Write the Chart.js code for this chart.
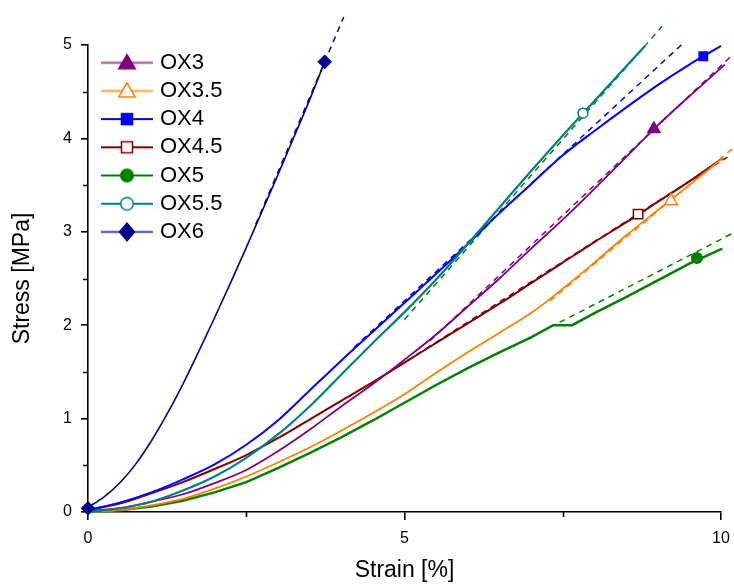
<!DOCTYPE html>
<html><head><meta charset="utf-8">
<script src="https://cdn.jsdelivr.net/npm/chart.js@4/dist/chart.umd.min.js"></script>
<style>html,body{margin:0;padding:0;background:#fff}canvas{display:block}</style>
</head><body>
<canvas id="c" width="734" height="584"></canvas>
<script>
// ---------- data ----------
const seriesNames = ['OX3', 'OX3.5', 'OX4', 'OX4.5', 'OX5', 'OX5.5', 'OX6'];

const strainOX3  = [0, 0.5, 1, 1.5, 2, 2.5, 3, 3.5, 4, 4.5, 5, 5.5, 6, 6.5, 7, 7.5, 8, 8.5, 9, 9.5, 10.06];
const stressOX3  = [0.01, 0.04, 0.11, 0.19, 0.31, 0.45, 0.65, 0.88, 1.13, 1.37, 1.63, 1.9, 2.2, 2.5, 2.82, 3.13, 3.46, 3.8, 4.14, 4.45, 4.79];

const strainOX35 = [0, 0.5, 1, 1.5, 2, 2.5, 3, 3.5, 4, 4.5, 5, 5.5, 6, 6.5, 7, 7.5, 8, 8.5, 9, 9.5, 10.03];
const stressOX35 = [0, 0.02, 0.07, 0.14, 0.25, 0.38, 0.53, 0.69, 0.87, 1.06, 1.26, 1.49, 1.71, 1.92, 2.13, 2.39, 2.67, 2.96, 3.23, 3.5, 3.79];

const strainOX4  = [0, 0.5, 1, 1.5, 2, 2.5, 3, 3.5, 4, 4.5, 5, 5.5, 6, 6.5, 7, 7.5, 8, 8.5, 9, 9.5, 9.72, 10.0];
const stressOX4  = [0.02, 0.1, 0.21, 0.35, 0.51, 0.72, 0.98, 1.3, 1.62, 1.93, 2.24, 2.55, 2.87, 3.2, 3.51, 3.82, 4.08, 4.33, 4.57, 4.79, 4.88, 4.99];

const strainOX45 = [0, 0.5, 1, 1.5, 2, 2.5, 3, 3.5, 4, 4.5, 5, 5.5, 6, 6.5, 7, 7.5, 8, 8.5, 9, 9.5, 10.03];
const stressOX45 = [0.02, 0.09, 0.2, 0.32, 0.46, 0.61, 0.79, 0.99, 1.19, 1.39, 1.6, 1.81, 2.02, 2.23, 2.45, 2.67, 2.89, 3.1, 3.32, 3.54, 3.79];

const strainOX5  = [0, 0.5, 1, 1.5, 2, 2.5, 3, 3.5, 4, 4.5, 5, 5.5, 6, 6.5, 7, 7.35, 7.65, 8, 8.5, 9, 9.5, 10.02];
const stressOX5  = [0, 0.02, 0.06, 0.12, 0.21, 0.32, 0.47, 0.63, 0.8, 0.98, 1.17, 1.36, 1.54, 1.71, 1.87, 2.0, 2.0, 2.13, 2.3, 2.48, 2.66, 2.82];

const strainOX55 = [0, 0.5, 1, 1.5, 2, 2.5, 3, 3.5, 4, 4.5, 5, 5.5, 6, 6.5, 7, 7.5, 8, 8.5, 8.8];
const stressOX55 = [0, 0.04, 0.11, 0.23, 0.38, 0.58, 0.83, 1.13, 1.47, 1.81, 2.14, 2.49, 2.87, 3.26, 3.65, 4.03, 4.4, 4.77, 4.99];

const strainOX6  = [0, 0.25, 0.5, 0.75, 1.0, 1.25, 1.5, 1.75, 2.0, 2.25, 2.5, 2.75, 3.0, 3.25, 3.5, 3.74];
const stressOX6  = [0.05, 0.16, 0.31, 0.51, 0.76, 1.05, 1.37, 1.72, 2.08, 2.45, 2.83, 3.22, 3.61, 4.01, 4.41, 4.82];

// linear fits (dashed)
const fitStrainOX3  = [5.4, 10.19];  const fitStressOX3  = [1.83, 4.90];
const fitStrainOX35 = [7.3, 10.2];   const fitStressOX35 = [2.26, 3.9];
const fitStrainOX4  = [4.2, 9.42];   const fitStressOX4  = [1.76, 5.03];
const fitStrainOX45 = [4.6, 10.1];   const fitStressOX45 = [1.43, 3.80];
const fitStrainOX5  = [7.45, 10.2];  const fitStressOX5  = [2.03, 2.99];
const fitStrainOX55 = [5.0, 9.07];   const fitStressOX55 = [2.06, 5.2];
const fitStrainOX6  = [2.65, 4.04];  const fitStressOX6  = [3.08, 5.3];

// marker positions
const markerStrain = [[8.94], [9.21], [9.72], [8.69], [9.62], [7.82], [0, 3.74]];
const markerStress = [[4.10], [3.33], [4.88], [3.19], [2.72], [4.27], [0.04, 4.82]];

const xTicks = [0, 5, 10];
const yTicks = [0, 1, 2, 3, 4, 5];

// ---------- styles ----------
const colors     = ['#800080', '#FF8000', '#0000FF', '#800000', '#008000', '#008080', '#000090'];
const fitColors  = ['#800080', '#FF8000', '#0000FF', '#800000', '#008000', '#008000', '#000090'];
const lineWidths = [1.8, 1.8, 2, 2, 2.5, 2.2, 1.6];
const shapes     = ['triangle', 'triangle', 'rect', 'rect', 'circle', 'circle', 'rectRot'];
const filled     = [true, false, true, false, true, false, true];
const radii      = [7, 7.5, 5.9, 6.6, 5.3, 5, 6.3];
const drawOrder  = [13, 14, 12, 15, 16, 11, 10];
const smooth     = [true, true, true, true, false, true, true];

const curvesX = [strainOX3, strainOX35, strainOX4, strainOX45, strainOX5, strainOX55, strainOX6];
const curvesY = [stressOX3, stressOX35, stressOX4, stressOX45, stressOX5, stressOX55, stressOX6];
const fitsX = [fitStrainOX3, fitStrainOX35, fitStrainOX4, fitStrainOX45, fitStrainOX5, fitStrainOX55, fitStrainOX6];
const fitsY = [fitStressOX3, fitStressOX35, fitStressOX4, fitStressOX45, fitStressOX5, fitStressOX55, fitStressOX6];

const pts = (xs, ys) => xs.map((x, i) => ({x: x, y: ys[i]}));

const datasets = [];
seriesNames.forEach((name, i) => {
  datasets.push({
    label: name + ' fit', data: pts(fitsX[i], fitsY[i]),
    borderColor: fitColors[i], borderWidth: 1.5, borderDash: [6, 5],
    pointRadius: 0, fill: false, clip: false, order: 20
  });
});
seriesNames.forEach((name, i) => {
  const ds = {
    label: name, data: pts(curvesX[i], curvesY[i]),
    borderColor: colors[i], borderWidth: lineWidths[i],
    pointRadius: 0, fill: false, clip: false, order: drawOrder[i]
  };
  if (smooth[i]) ds.cubicInterpolationMode = 'monotone'; else ds.tension = 0;
  datasets.push(ds);
});
seriesNames.forEach((name, i) => {
  datasets.push({
    label: name + ' marker', data: pts(markerStrain[i], markerStress[i]),
    showLine: false, pointStyle: shapes[i], pointRadius: radii[i],
    pointBackgroundColor: filled[i] ? colors[i] : '#ffffff',
    pointBorderColor: colors[i], pointBorderWidth: 1.5,
    clip: false, order: i
  });
});

// ---------- legend icons (line + marker) ----------
function makeIcon(i) {
  const c = document.createElement('canvas');
  c.width = 56; c.height = 24;
  const g = c.getContext('2d');
  const col = colors[i];
  const light = (i === 0 || i === 1 || i === 6);
  g.globalAlpha = light ? 0.6 : 1;
  g.strokeStyle = col; g.lineWidth = light ? 2.6 : 2;
  g.beginPath(); g.moveTo(2, 12); g.lineTo(54, 12); g.stroke();
  g.globalAlpha = 1;
  const cx = 28, cy = 12;
  g.beginPath();
  if (shapes[i] === 'triangle') {
    g.moveTo(cx, cy - 8); g.lineTo(cx + 8.3, cy + 6); g.lineTo(cx - 8.3, cy + 6); g.closePath();
  } else if (shapes[i] === 'rect') {
    g.rect(cx - 5.5, cy - 5.5, 11, 11);
  } else if (shapes[i] === 'circle') {
    g.arc(cx, cy, 6.3, 0, Math.PI * 2);
  } else {
    g.moveTo(cx, cy - 8.8); g.lineTo(cx + 7.5, cy); g.lineTo(cx, cy + 8.8); g.lineTo(cx - 7.5, cy); g.closePath();
  }
  g.fillStyle = filled[i] ? col : '#ffffff';
  g.fill();
  g.strokeStyle = col; g.lineWidth = 1.5; g.stroke();
  return c;
}
const legendIcons = seriesNames.map((n, i) => makeIcon(i));

// ---------- plugins ----------
const legendPlace = {
  id: 'legendPlace',
  afterLayout(chart) {
    if (chart.legend) { chart.legend.left = 98.8; chart.legend.top = 45.5; }
  }
};
const minorTicks = {
  id: 'minorTicks',
  afterDraw(chart) {
    const {ctx, scales: {x, y}} = chart;
    ctx.save();
    ctx.strokeStyle = '#000'; ctx.lineWidth = 1.6;
    ctx.beginPath();
    [2.5, 7.5].forEach(v => { const p = Math.round(x.getPixelForValue(v)) + 0.5; ctx.moveTo(p, y.bottom); ctx.lineTo(p, y.bottom + 5); });
    [0.5, 1.5, 2.5, 3.5, 4.5].forEach(v => { const p = Math.round(y.getPixelForValue(v)) + 0.5; ctx.moveTo(x.left - 5, p); ctx.lineTo(x.left, p); });
    ctx.stroke();
    ctx.restore();
  }
};

Chart.defaults.font.family = '"Liberation Sans", Arial, sans-serif';
Chart.defaults.color = '#000';

new Chart(document.getElementById('c'), {
  type: 'line',
  data: {datasets: datasets},
  plugins: [legendPlace, minorTicks],
  options: {
    responsive: false, animation: false, devicePixelRatio: 1,
    layout: {padding: {top: 45, right: 13, left: 0, bottom: 0}},
    plugins: {
      tooltip: {enabled: false},
      legend: {
        position: 'chartArea', align: 'start',
        labels: {
          usePointStyle: true, pointStyleWidth: 44, padding: 6.2,
          font: {size: 22}, color: '#000', textAlign: 'left',
          generateLabels: (chart) => seriesNames.map((n, i) => ({
            text: n, pointStyle: legendIcons[i], fillStyle: colors[i], strokeStyle: colors[i],
            lineWidth: 0, hidden: false, datasetIndex: 7 + i, fontColor: '#000', textAlign: 'left'
          }))
        }
      }
    },
    scales: {
      x: {
        type: 'linear', min: 0, max: 10,
        afterFit: (s) => { s.height = 72; s.paddingLeft = 0; s.paddingRight = 0; },
        afterBuildTicks: (s) => { s.ticks = xTicks.map(v => ({value: v})); },
        ticks: {font: {size: 16}, color: '#000', padding: 9, maxRotation: 0, autoSkip: false},
        grid: {drawOnChartArea: false, drawTicks: true, tickLength: 8, lineWidth: 1.6, color: '#000'},
        border: {display: true, color: '#000', width: 1.6},
        title: {display: true, text: 'Strain [%]', font: {size: 23}, color: '#000', padding: {top: 0, bottom: 0}}
      },
      y: {
        type: 'linear', min: 0, max: 5,
        afterFit: (s) => { s.width = 88; },
        afterBuildTicks: (s) => { s.ticks = yTicks.map(v => ({value: v})); },
        ticks: {font: {size: 16}, color: '#000', padding: 9, autoSkip: false},
        grid: {drawOnChartArea: false, drawTicks: true, tickLength: 7, lineWidth: 1.6, color: '#000'},
        border: {display: true, color: '#000', width: 1.6},
        title: {display: true, text: 'Stress [MPa]', font: {size: 23}, color: '#000', padding: {top: 9, bottom: 0}}
      }
    }
  }
});
</script>
</body></html>
